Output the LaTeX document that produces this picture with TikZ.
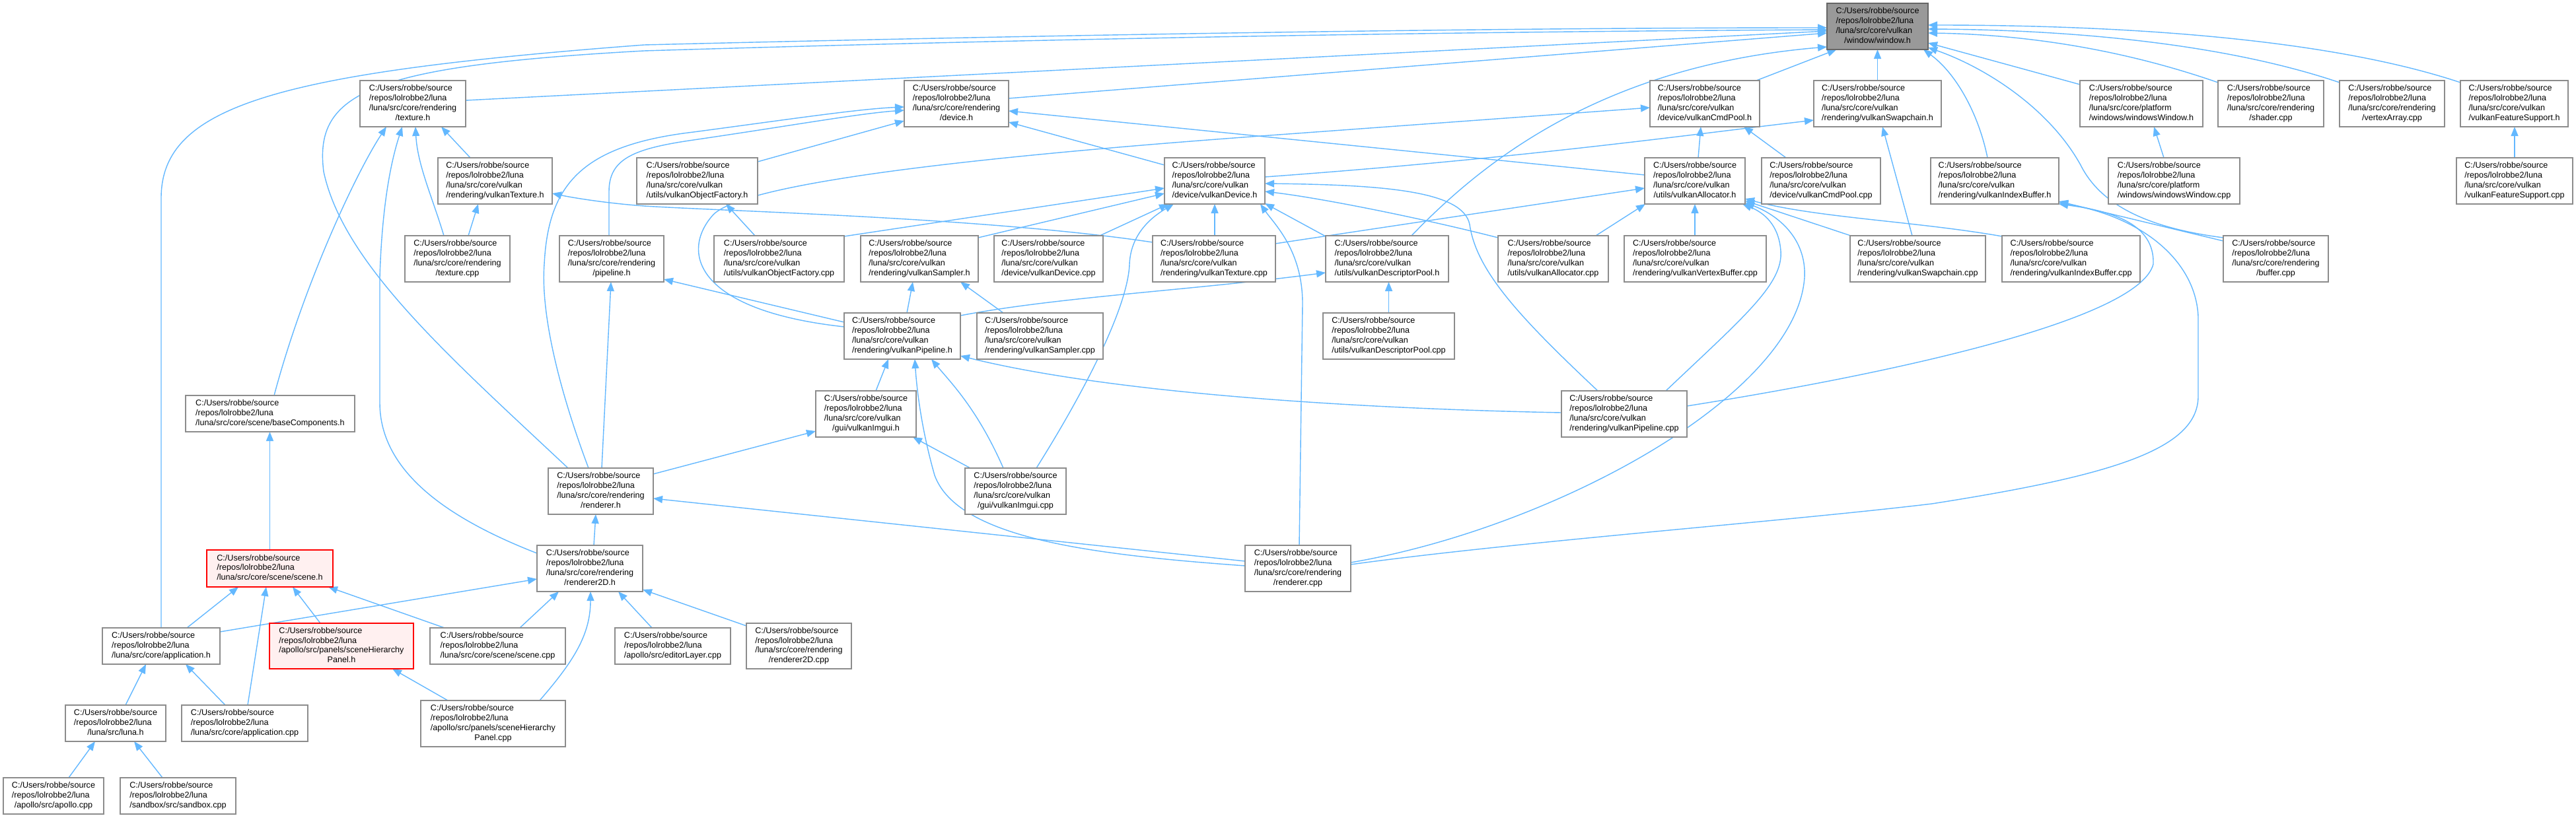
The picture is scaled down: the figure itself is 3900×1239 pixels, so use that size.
\documentclass[tikz,border=0pt]{standalone}
\usepackage{fontspec}
\setmainfont{Liberation Sans}
\usetikzlibrary{arrows.meta,calc}
\definecolor{edgec}{HTML}{63B8FF}
\definecolor{boxc}{HTML}{8C8C8C}
\definecolor{rootfill}{HTML}{999999}
\definecolor{rootdraw}{HTML}{666666}
\definecolor{redfill}{HTML}{FFF0F0}
\definecolor{reddraw}{HTML}{FF0000}
\pgfdeclarelayer{bg}
\pgfsetlayers{bg,main}
\newcommand{\pthhead}{C:/Users/robbe/source\\/repos/lolrobbe2/luna}
\newcommand{\fourl}[2]{\begin{tabular}{@{}l@{}}\pthhead\\#1\\\multicolumn{1}{@{}c@{}}{#2}\end{tabular}}
\newcommand{\threel}[1]{\begin{tabular}{@{}l@{}}\pthhead\\\multicolumn{1}{@{}c@{}}{#1}\end{tabular}}
\begin{document}
\begin{tikzpicture}[x=1pt,y=-1pt,
  box/.style={draw=boxc,line width=1.6pt,fill=white,inner sep=0pt,font=\fontsize{12.6}{14.8}\selectfont,text=black},
  rootbox/.style={box,draw=rootdraw,fill=rootfill},
  redbox/.style={box,draw=reddraw,fill=redfill},
  edge/.style={draw=edgec,line width=1.4pt,-{Triangle[length=14pt,width=11pt]}}]
\useasboundingbox (0,0) rectangle (3900,1239);
% ---------- nodes ----------
\node[rootbox,minimum width=153pt,minimum height=70pt] (W) at (2842.5,40) {\fourl{/luna/src/core/vulkan}{/window/window.h}};
% row 1
\node[box,minimum width=160pt,minimum height=70pt] (TXH) at (625,157) {\fourl{/luna/src/core/rendering}{/texture.h}};
\node[box,minimum width=158pt,minimum height=70pt] (DEVH) at (1448,157) {\fourl{/luna/src/core/rendering}{/device.h}};
\node[box,minimum width=166pt,minimum height=70pt] (CMDH) at (2581,157) {\fourl{/luna/src/core/vulkan}{/device/vulkanCmdPool.h}};
\node[box,minimum width=193pt,minimum height=70pt] (SWH) at (2842.5,157) {\fourl{/luna/src/core/vulkan}{/rendering/vulkanSwapchain.h}};
\node[box,minimum width=186pt,minimum height=70pt] (WWH) at (3242,157) {\fourl{/luna/src/core/platform}{/windows/windowsWindow.h}};
\node[box,minimum width=160pt,minimum height=70pt] (SHC) at (3438,157) {\fourl{/luna/src/core/rendering}{/shader.cpp}};
\node[box,minimum width=159pt,minimum height=70pt] (VAC) at (3621.5,157) {\fourl{/luna/src/core/rendering}{/vertexArray.cpp}};
\node[box,minimum width=163pt,minimum height=70pt] (VFSH) at (3806.5,157) {\fourl{/luna/src/core/vulkan}{/vulkanFeatureSupport.h}};
% row 2
\node[box,minimum width=173pt,minimum height=70pt] (VTXH) at (749.5,274) {\fourl{/luna/src/core/vulkan}{/rendering/vulkanTexture.h}};
\node[box,minimum width=183pt,minimum height=70pt] (VOFH) at (1055.5,274) {\fourl{/luna/src/core/vulkan}{/utils/vulkanObjectFactory.h}};
\node[box,minimum width=152pt,minimum height=70pt] (VDH) at (1839,274) {\fourl{/luna/src/core/vulkan}{/device/vulkanDevice.h}};
\node[box,minimum width=152pt,minimum height=70pt] (VAH) at (2566,274) {\fourl{/luna/src/core/vulkan}{/utils/vulkanAllocator.h}};
\node[box,minimum width=180pt,minimum height=70pt] (CMDC) at (2757,274) {\fourl{/luna/src/core/vulkan}{/device/vulkanCmdPool.cpp}};
\node[box,minimum width=194pt,minimum height=70pt] (VIBH) at (3020,274) {\fourl{/luna/src/core/vulkan}{/rendering/vulkanIndexBuffer.h}};
\node[box,minimum width=199pt,minimum height=70pt] (WWC) at (3291.5,274) {\fourl{/luna/src/core/platform}{/windows/windowsWindow.cpp}};
\node[box,minimum width=176pt,minimum height=70pt] (VFSC) at (3807,274) {\fourl{/luna/src/core/vulkan}{/vulkanFeatureSupport.cpp}};
% row 3
\node[box,minimum width=159pt,minimum height=70pt] (TXC) at (692.5,392) {\fourl{/luna/src/core/rendering}{/texture.cpp}};
\node[box,minimum width=158pt,minimum height=70pt] (PIPH) at (926,392) {\fourl{/luna/src/core/rendering}{/pipeline.h}};
\node[box,minimum width=197pt,minimum height=70pt] (VOFC) at (1179.5,392) {\fourl{/luna/src/core/vulkan}{/utils/vulkanObjectFactory.cpp}};
\node[box,minimum width=178pt,minimum height=70pt] (VSH) at (1392,392) {\fourl{/luna/src/core/vulkan}{/rendering/vulkanSampler.h}};
\node[box,minimum width=165pt,minimum height=70pt] (VDC) at (1587.5,392) {\fourl{/luna/src/core/vulkan}{/device/vulkanDevice.cpp}};
\node[box,minimum width=186pt,minimum height=70pt] (VTXC) at (1838,392) {\fourl{/luna/src/core/vulkan}{/rendering/vulkanTexture.cpp}};
\node[box,minimum width=186pt,minimum height=70pt] (VDPH) at (2100,392) {\fourl{/luna/src/core/vulkan}{/utils/vulkanDescriptorPool.h}};
\node[box,minimum width=167pt,minimum height=70pt] (VACP) at (2351.5,392) {\fourl{/luna/src/core/vulkan}{/utils/vulkanAllocator.cpp}};
\node[box,minimum width=215pt,minimum height=70pt] (VVBC) at (2566.5,392) {\fourl{/luna/src/core/vulkan}{/rendering/vulkanVertexBuffer.cpp}};
\node[box,minimum width=205pt,minimum height=70pt] (SWC) at (2903.5,392) {\fourl{/luna/src/core/vulkan}{/rendering/vulkanSwapchain.cpp}};
\node[box,minimum width=209pt,minimum height=70pt] (VIBC) at (3135.5,392) {\fourl{/luna/src/core/vulkan}{/rendering/vulkanIndexBuffer.cpp}};
\node[box,minimum width=159pt,minimum height=70pt] (BUFC) at (3445.5,392) {\fourl{/luna/src/core/rendering}{/buffer.cpp}};
% row 4
\node[box,minimum width=176pt,minimum height=70pt] (VPH) at (1366,509) {\fourl{/luna/src/core/vulkan}{/rendering/vulkanPipeline.h}};
\node[box,minimum width=191pt,minimum height=70pt] (VSC) at (1574.5,509) {\fourl{/luna/src/core/vulkan}{/rendering/vulkanSampler.cpp}};
\node[box,minimum width=199pt,minimum height=70pt] (VDPC) at (2102.5,509) {\fourl{/luna/src/core/vulkan}{/utils/vulkanDescriptorPool.cpp}};
% row 5
\node[box,minimum width=256pt,minimum height=55pt] (BCH) at (409,626.5) {\threel{/luna/src/core/scene/baseComponents.h}};
\node[box,minimum width=152pt,minimum height=70pt] (VIH) at (1311,627) {\fourl{/luna/src/core/vulkan}{/gui/vulkanImgui.h}};
\node[box,minimum width=190pt,minimum height=70pt] (VPC) at (2459,627) {\fourl{/luna/src/core/vulkan}{/rendering/vulkanPipeline.cpp}};
% row 6
\node[box,minimum width=159pt,minimum height=70pt] (RH) at (909.5,744) {\fourl{/luna/src/core/rendering}{/renderer.h}};
\node[box,minimum width=153pt,minimum height=70pt] (VIC) at (1537.5,744) {\fourl{/luna/src/core/vulkan}{/gui/vulkanImgui.cpp}};
% row 7
\node[redbox,minimum width=191pt,minimum height=56pt] (SCH) at (408.5,861) {\threel{/luna/src/core/scene/scene.h}};
\node[box,minimum width=160pt,minimum height=70pt] (R2H) at (893,861) {\fourl{/luna/src/core/rendering}{/renderer2D.h}};
\node[box,minimum width=160pt,minimum height=70pt] (RC) at (1965,861) {\fourl{/luna/src/core/rendering}{/renderer.cpp}};
% row 8
\node[box,minimum width=178pt,minimum height=55pt] (APH) at (244,978.5) {\threel{/luna/src/core/application.h}};
\node[redbox,minimum width=218pt,minimum height=69pt] (SHPH) at (517,978.5) {\fourl{/apollo/src/panels/sceneHierarchy}{Panel.h}};
\node[box,minimum width=205pt,minimum height=55pt] (SCC) at (753.5,978.5) {\threel{/luna/src/core/scene/scene.cpp}};
\node[box,minimum width=175pt,minimum height=55pt] (ELC) at (1018.5,978.5) {\threel{/apollo/src/editorLayer.cpp}};
\node[box,minimum width=159pt,minimum height=69pt] (R2C) at (1209.5,978.5) {\fourl{/luna/src/core/rendering}{/renderer2D.cpp}};
% row 9
\node[box,minimum width=152pt,minimum height=55pt] (LH) at (175,1095.5) {\threel{/luna/src/luna.h}};
\node[box,minimum width=191pt,minimum height=55pt] (APC) at (370.5,1095.5) {\threel{/luna/src/core/application.cpp}};
\node[box,minimum width=219pt,minimum height=70pt] (SHPC) at (746.5,1096) {\fourl{/apollo/src/panels/sceneHierarchy}{Panel.cpp}};
% row 10
\node[box,minimum width=152pt,minimum height=55pt] (APO) at (81,1205.5) {\threel{/apollo/src/apollo.cpp}};
\node[box,minimum width=175pt,minimum height=55pt] (SBX) at (269.5,1205.5) {\threel{/sandbox/src/sandbox.cpp}};
% ---------- edges ----------
\begin{pgfonlayer}{bg}
\fill[white] (0,0) rectangle (3900,1239);
\draw[edge] ($(TXH)+(80,-5)$) -- ($(W)+(-76.5,7)$);
\draw[edge] ($(DEVH)+(79,-8)$) -- ($(W)+(-76.5,10)$);
\draw[edge] ($(APH)+(0,-27.5)$) -- (244,300) .. controls (244,160) and (420,110) .. (975,68) .. controls (1500,55) and (2200,42) .. ($(W)+(-76.5,2)$);
\draw[edge] ($(RH)+(-49.5,-35)$) .. controls (680,540) and (520,400) .. (490,260) .. controls (475,140) and (560,100) .. (975,77) .. controls (1600,58) and (2200,48) .. ($(W)+(-76.5,5)$);
\draw[edge] ($(RH)+(-18.5,-35)$) .. controls (850,600) and (818,480) .. (824,400) .. controls (830,280) and (880,220) .. (1050,200) .. controls (1200,180) and (1300,165) .. ($(DEVH)+(-79,5)$);
\draw[edge] ($(PIPH)+(-4,-35)$) -- (922,290) .. controls (922,240) and (960,225) .. (1050,212) .. controls (1200,190) and (1300,172) .. ($(DEVH)+(-79,10)$);
\draw[edge] ($(VOFH)+(91.5,-29)$) -- ($(DEVH)+(-79,26)$);
\draw[edge] ($(VDH)+(-76,-24)$) -- ($(DEVH)+(79,28)$);
\draw[edge] ($(VAH)+(-76,-9)$) -- ($(DEVH)+(79,11)$);
\draw[edge] ($(VPH)+(-88,-14)$) .. controls (1050,470) and (1030,380) .. (1080,325) .. controls (1130,275) and (1500,235) .. (1950,203) -- ($(CMDH)+(-83,6)$);
\draw[edge] ($(VAH)+(5,-35)$) -- ($(CMDH)+(-6,35)$);
\draw[edge] ($(CMDC)+(-53,-35)$) -- ($(CMDH)+(59,35)$);
\draw[edge] ($(CMDH)+(78,-35)$) -- ($(W)+(-62,35)$);
\draw[edge] ($(SWH)+(0,-35)$) -- ($(W)+(0,35)$);
\draw[edge] ($(VDPH)+(37,-35)$) .. controls (2240,250) and (2420,100) .. ($(W)+(-76.5,31)$);
\draw[edge] ($(SWC)+(-8.5,-35)$) -- ($(SWH)+(7.5,35)$);
\draw[edge] ($(VDH)+(76,-6)$) .. controls (2300,240) and (2550,205) .. ($(SWH)+(-96.5,25)$);
\draw[edge] ($(VPC)+(-40,-35)$) .. controls (2300,480) and (2235,410) .. (2225,340) .. controls (2215,290) and (2100,280) .. ($(VDH)+(76,4)$);
\draw[edge] ($(VACP)+(-83.5,-32)$) .. controls (2150,330) and (2000,300) .. ($(VDH)+(76,16)$);
\draw[edge] ($(VDPH)+(-93,-34)$) -- ($(VDH)+(76,34)$);
\draw[edge] ($(VTXC)+(93,-23)$) -- ($(VAH)+(-76,11)$);
\draw[edge] ($(VPH)+(88,-31)$) .. controls (1600,450) and (1800,440) .. ($(VDPH)+(-93,21)$);
\draw[edge] ($(VDPC)+(0,-35)$) -- ($(VDPH)+(2.5,35)$);
\draw[edge] ($(VACP)+(64.5,-35)$) -- ($(VAH)+(-75,35)$);
\draw[edge] ($(VVBC)+(-0.5,-35)$) -- ($(VAH)+(0,35)$);
\draw[edge] ($(VPC)+(63,-35)$) .. controls (2640,480) and (2700,430) .. (2696,380) .. controls (2693,340) and (2670,322) .. ($(VAH)+(72,35)$);
\draw[edge] ($(RC)+(80,-9)$) .. controls (2350,800) and (2720,600) .. (2732,420) .. controls (2735,360) and (2690,325) .. ($(VAH)+(76,33)$);
\draw[edge] ($(SWC)+(-101.5,-35)$) -- ($(VAH)+(76,30)$);
\draw[edge] ($(VIBC)+(-104.5,-34)$) .. controls (2900,335) and (2750,330) .. ($(VAH)+(76,27)$);
\draw[edge] ($(VTXC)+(1,-35)$) -- ($(VDH)+(0,35)$);
\draw[edge] ($(VDC)+(77.5,-35)$) -- ($(VDH)+(-70,35)$);
\draw[edge] ($(VIC)+(31.5,-35)$) .. controls (1650,580) and (1708,460) .. (1710,400) .. controls (1712,350) and (1750,325) .. ($(VDH)+(-62,35)$);
\draw[edge] ($(RC)+(2,-35)$) -- (1972,460) .. controls (1972,380) and (1930,340) .. ($(VDH)+(69,35)$);
\draw[edge] ($(VOFC)+(98.5,-34)$) -- ($(VDH)+(-76,11)$);
\draw[edge] ($(VSH)+(89,-32)$) -- ($(VDH)+(-76,19)$);
\draw[edge] ($(VOFC)+(-36.5,-35)$) -- ($(VOFH)+(43.5,35)$);
\draw[edge] ($(VTXC)+(-93,-25)$) .. controls (1500,330) and (1100,320) .. (975,312) .. controls (920,308) and (870,300) .. ($(VTXH)+(86.5,19)$);
\draw[edge] ($(TXC)+(16.5,-35)$) -- ($(VTXH)+(-25.5,35)$);
\draw[edge] ($(VTXH)+(-37.5,-35)$) -- ($(TXH)+(43,35)$);
\draw[edge] ($(TXC)+(-20.5,-35)$) .. controls (655,300) and (632,250) .. ($(TXH)+(4,35)$);
\draw[edge] ($(BCH)+(6,-27.5)$) .. controls (460,430) and (540,260) .. ($(TXH)+(-40,35)$);
\draw[edge] ($(R2H)+(-80,-23)$) .. controls (690,790) and (575,720) .. (575,610) -- (575,420) .. controls (578,320) and (590,250) .. ($(TXH)+(-16,35)$);
\draw[edge] ($(VPH)+(-88,-21)$) -- ($(PIPH)+(79,31)$);
\draw[edge] ($(VPH)+(7,-35)$) -- ($(VSH)+(-10,35)$);
\draw[edge] ($(VSC)+(-55.5,-35)$) -- ($(VSH)+(62,35)$);
\draw[edge] ($(VIH)+(15,-35)$) -- ($(VPH)+(-21,35)$);
\draw[edge] ($(VIC)+(-18.5,-35)$) .. controls (1480,620) and (1440,580) .. ($(VPH)+(44,35)$);
\draw[edge] ($(RC)+(-80,-4)$) .. controls (1650,840) and (1450,815) .. (1415,720) .. controls (1395,650) and (1388,590) .. ($(VPH)+(19,35)$);
\draw[edge] ($(VPC)+(-95,-2)$) .. controls (2100,620) and (1700,600) .. ($(VPH)+(88,30)$);
\draw[edge] ($(VIC)+(-68.5,-35)$) -- ($(VIH)+(71,35)$);
\draw[edge] ($(RH)+(79.5,-26)$) -- ($(VIH)+(-76,26)$);
\draw[edge] ($(RC)+(-80,-11)$) -- ($(RH)+(79.5,11)$);
\draw[edge] ($(RH)+(1.5,-35)$) -- ($(PIPH)+(-1,35)$);
\draw[edge] ($(R2H)+(6,-35)$) -- ($(RH)+(-7.5,35)$);
\draw[edge] ($(SCH)+(0,-28)$) -- ($(BCH)+(-0.5,27.5)$);
\draw[edge] ($(APH)+(39,-27.5)$) -- ($(SCH)+(-47.5,28)$);
\draw[edge] ($(APC)+(4.5,-27.5)$) -- ($(SCH)+(-5.5,28)$);
\draw[edge] ($(SHPH)+(-32,-34.5)$) -- ($(SCH)+(34.5,28)$);
\draw[edge] ($(SCC)+(-80.5,-27.5)$) -- ($(SCH)+(88.5,28)$);
\draw[edge] ($(APH)+(89,-21.5)$) -- ($(R2H)+(-80,16)$);
\draw[edge] ($(SCC)+(33.5,-27.5)$) -- ($(R2H)+(-47,35)$);
\draw[edge] ($(SHPC)+(70.5,-35)$) .. controls (870,1000) and (894,960) .. ($(R2H)+(1,35)$);
\draw[edge] ($(ELC)+(-31.5,-27.5)$) -- ($(R2H)+(43,35)$);
\draw[edge] ($(R2C)+(-79.5,-30.5)$) -- ($(R2H)+(80,32)$);
\draw[edge] ($(LH)+(15,-27.5)$) -- ($(APH)+(-23,27.5)$);
\draw[edge] ($(APC)+(-29.5,-27.5)$) -- ($(APH)+(37,27.5)$);
\draw[edge] ($(SHPC)+(-68.5,-35)$) -- ($(SHPH)+(77,34.5)$);
\draw[edge] ($(APO)+(23,-27.5)$) -- ($(LH)+(-31,27.5)$);
\draw[edge] ($(SBX)+(-23.5,-27.5)$) -- ($(LH)+(28,27.5)$);
\draw[edge] ($(WWC)+(-15.5,-35)$) -- ($(WWH)+(19,35)$);
\draw[edge] ($(VFSC)+(0,-35)$) -- ($(VFSH)+(0.5,35)$);
\draw[edge] ($(WWH)+(-93,-29)$) -- ($(W)+(76.5,25)$);
\draw[edge] ($(SHC)+(-80,-32)$) .. controls (3200,70) and (3050,52) .. ($(W)+(76.5,10)$);
\draw[edge] ($(VAC)+(-79.5,-32)$) .. controls (3350,60) and (3100,45) .. ($(W)+(76.5,4)$);
\draw[edge] ($(VFSH)+(-81.5,-32)$) .. controls (3500,50) and (3150,38) .. ($(W)+(76.5,-2)$);
\draw[edge] ($(VIBH)+(-11,-35)$) .. controls (2995,170) and (2960,110) .. ($(W)+(69.5,35)$);
\draw[edge] ($(BUFC)+(-79.5,-32)$) .. controls (3250,345) and (3180,310) .. (3150,250) .. controls (3100,160) and (3000,100) .. ($(W)+(76.5,32)$);
\draw[edge] ($(BUFC)+(-79.5,-27)$) -- ($(VIBH)+(97,31)$);
\draw[edge] ($(VPC)+(95,-12)$) .. controls (2900,560) and (3240,480) .. (3260,400) .. controls (3262,340) and (3200,320) .. ($(VIBH)+(97,35)$);
\draw[edge] ($(RC)+(80,-6)$) .. controls (2300,820) and (2700,790) .. (2925,763) .. controls (3200,720) and (3328,680) .. (3328,600) -- (3328,480) .. controls (3325,400) and (3250,330) .. ($(VIBH)+(97,33)$);
\end{pgfonlayer}
\end{tikzpicture}
\end{document}
